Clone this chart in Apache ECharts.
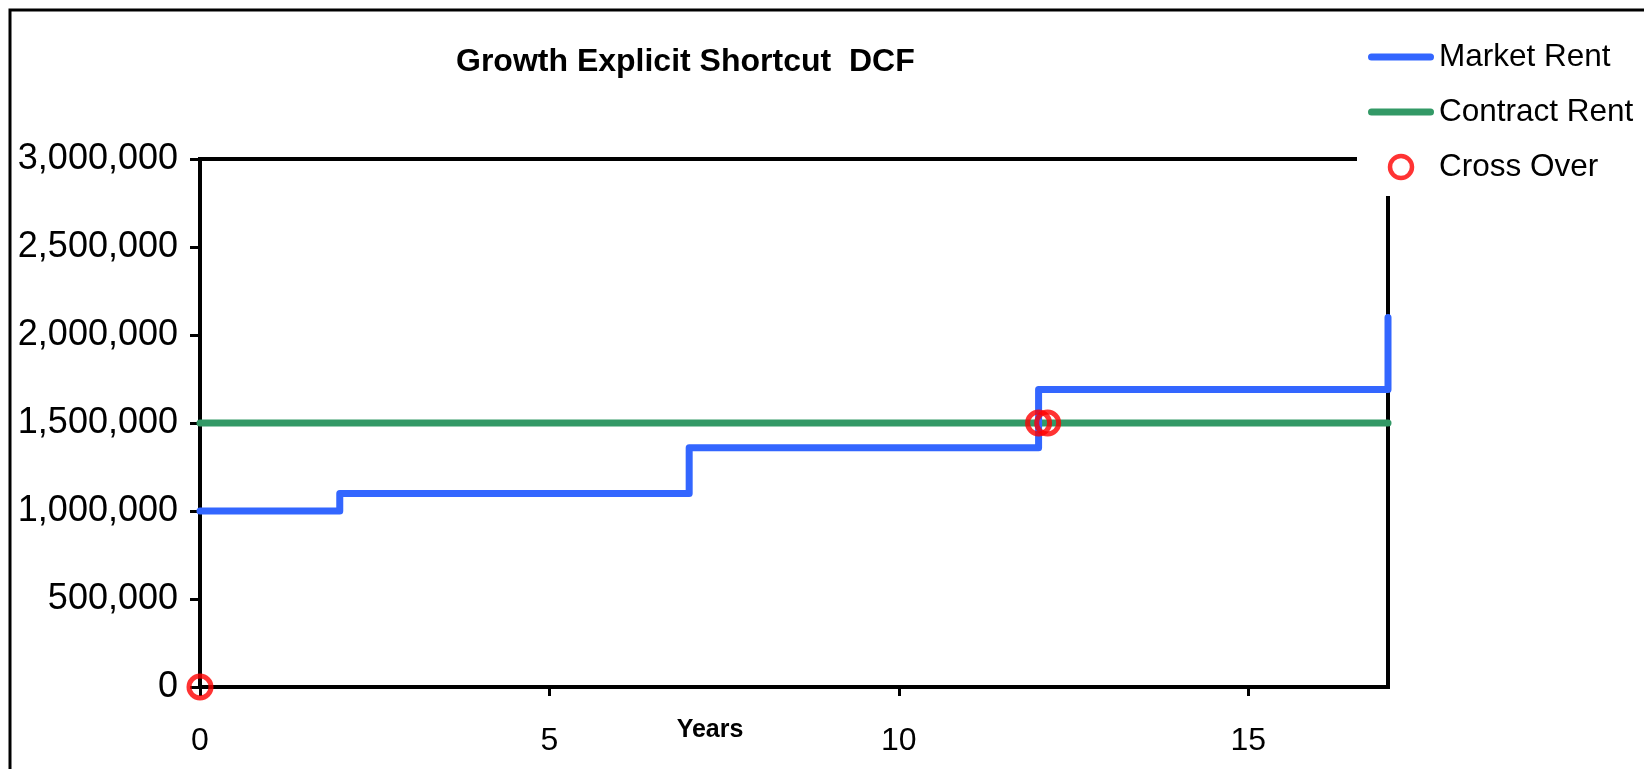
<!DOCTYPE html>
<html>
<head>
<meta charset="utf-8">
<title>Growth Explicit Shortcut DCF</title>
<script src="https://cdn.jsdelivr.net/npm/echarts@6/dist/echarts.min.js"></script>
<style>
  html, body { margin: 0; padding: 0; background: #fff; }
  #chart { width: 1644px; height: 769px; }
</style>
</head>
<body>
<div id="chart"></div>
<script>
// Market rent steps up at each review year; contract rent stays flat.
const marketYears = [0, 2, 7, 12, 17];
const marketRent = [1000000, 1100000, 1360000, 1690000, 2100000];
const contractYears = [0, 17];
const contractRent = [1500000, 1500000];
const crossYears = [0, 12, 12.13];
const crossValues = [0, 1500000, 1500000];
const xTicks = [0, 5, 10, 15];

const FONT = "'Liberation Sans', Arial, sans-serif";
const BLUE = '#3366FF';
const GREEN = '#339966';
const RED = '#FF0000';

const pairs = (xs, ys) => xs.map((x, i) => [x, ys[i]]);

const chart = echarts.init(document.getElementById('chart'), null, { renderer: 'canvas' });

const lineIcon = 'path://M3.5,0 H62.5 A3.5,3.5 0 0 1 62.5,7 H3.5 A3.5,3.5 0 0 1 3.5,0 Z';

chart.setOption({
  backgroundColor: '#fff',
  animation: false,
  textStyle: { fontFamily: FONT },
  title: {
    text: 'Growth Explicit Shortcut  DCF',
    left: 456,
    top: 46,
    padding: 0,
    textStyle: { fontFamily: FONT, fontSize: 32, fontWeight: 'bold', color: '#000' }
  },
  graphic: [{
    type: 'rect',
    z: -1,
    shape: { x: 10, y: 10, width: 3000, height: 3000 },
    style: { fill: 'none', stroke: '#000', lineWidth: 3 }
  }],
  legend: {
    orient: 'vertical',
    left: 1357,
    top: 28,
    padding: [12, 40, 12, 11],
    backgroundColor: '#fff',
    itemWidth: 66,
    itemHeight: 22,
    itemGap: 21,
    textStyle: { fontFamily: FONT, fontSize: 31.5, lineHeight: 34, color: '#000' },
    data: [
      { name: 'Market Rent', icon: lineIcon, itemStyle: { color: BLUE, borderWidth: 0 } },
      { name: 'Contract Rent', icon: lineIcon, itemStyle: { color: GREEN, borderWidth: 0 } },
      { name: 'Cross Over', icon: 'circle', itemStyle: { color: '#fff', borderColor: RED, borderWidth: 4.5 } }
    ]
  },
  grid: {
    left: 200, right: 256, top: 159, bottom: 82,
    outerBoundsMode: 'none',
    containLabel: false,
    show: true,
    borderColor: '#000',
    borderWidth: 4,
    backgroundColor: 'transparent'
  },
  xAxis: {
    type: 'value',
    min: 0,
    max: 17,
    interval: 5,
    name: 'Years',
    nameLocation: 'middle',
    nameGap: 31,
    nameMoveOverlap: false,
    nameTextStyle: { fontFamily: FONT, fontSize: 25, fontWeight: 'bold', color: '#000', padding: [0, 168, 0, 0] },
    splitLine: { show: false },
    axisLine: { show: true, lineStyle: { color: '#000', width: 4 } },
    axisTick: { show: true, customValues: xTicks, length: 9, lineStyle: { color: '#000', width: 3 } },
    axisLabel: { customValues: xTicks, margin: 38, fontFamily: FONT, fontSize: 32, color: '#000' }
  },
  yAxis: {
    type: 'value',
    min: 0,
    max: 3000000,
    interval: 500000,
    splitLine: { show: false },
    axisLine: { show: true, lineStyle: { color: '#000', width: 4 } },
    axisTick: { show: true, length: 10, lineStyle: { color: '#000', width: 3 } },
    axisLabel: {
      margin: 22, fontFamily: FONT, fontSize: 36, color: '#000',
      formatter: v => v.toLocaleString('en-US')
    }
  },
  series: [
    {
      name: 'Market Rent',
      type: 'line',
      step: 'end',
      data: pairs(marketYears, marketRent),
      showSymbol: false,
      clip: false,
      z: 3,
      lineStyle: { color: BLUE, width: 7, cap: 'round', join: 'round' },
      itemStyle: { color: BLUE }
    },
    {
      name: 'Contract Rent',
      type: 'line',
      data: pairs(contractYears, contractRent),
      showSymbol: false,
      clip: false,
      z: 2,
      lineStyle: { color: GREEN, width: 7, cap: 'round' },
      itemStyle: { color: GREEN }
    },
    {
      name: 'Cross Over',
      type: 'scatter',
      data: pairs(crossYears, crossValues),
      symbol: 'circle',
      symbolSize: 22,
      clip: false,
      z: 5,
      itemStyle: { color: 'transparent', borderColor: RED, borderWidth: 5 }
    }
  ]
});
</script>
</body>
</html>
